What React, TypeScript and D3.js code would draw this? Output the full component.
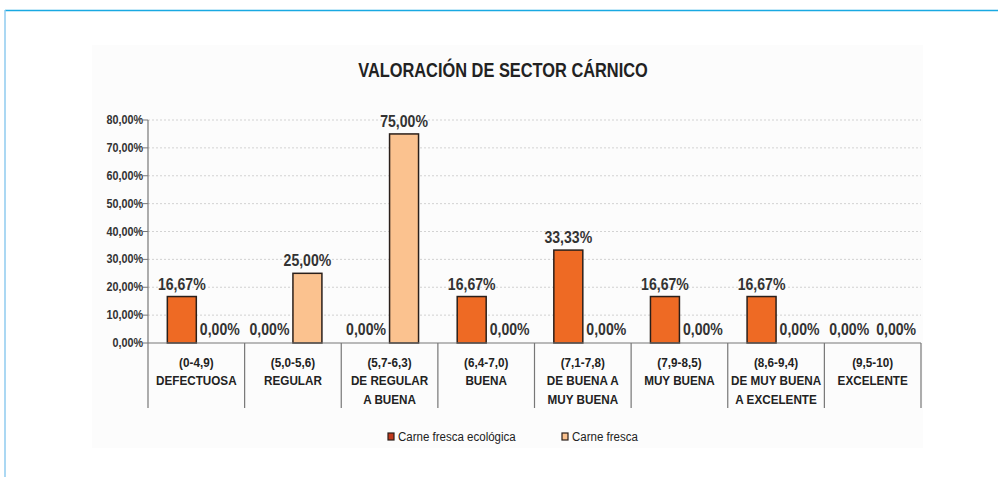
import React from "react";
import * as d3 from "d3";

const title = "VALORACIÓN DE SECTOR CÁRNICO";
const categories: string[][] = [
  ["(0-4,9)", "DEFECTUOSA"],
  ["(5,0-5,6)", "REGULAR"],
  ["(5,7-6,3)", "DE REGULAR", "A BUENA"],
  ["(6,4-7,0)", "BUENA"],
  ["(7,1-7,8)", "DE BUENA A", "MUY BUENA"],
  ["(7,9-8,5)", "MUY BUENA"],
  ["(8,6-9,4)", "DE MUY BUENA", "A EXCELENTE"],
  ["(9,5-10)", "EXCELENTE"],
];
const seriesNames = ["Carne fresca ecológica", "Carne fresca"];
const ecologica = [16.67, 0, 0, 16.67, 33.33, 16.67, 16.67, 0];
const fresca = [0, 25, 75, 0, 0, 0, 0, 0];
const yTicks = [0, 10, 20, 30, 40, 50, 60, 70, 80];

const colors = ["#ee6a24", "#fbc28f"];
const FONT = "'Liberation Sans Narrow', 'Arial Narrow', 'Liberation Sans', Arial, sans-serif";

const fmt = (v: number) => d3.format(".2f")(v).replace(".", ",") + "%";

function NText(props: {
  x: number; y: number; sx: number; anchor?: string; size: number; bold?: boolean; fill?: string; children: React.ReactNode;
}) {
  const { x, y, sx, anchor = "middle", size, bold = true, fill = "#222", children } = props;
  return (
    <text
      transform={`translate(${x},${y}) scale(${sx},1)`}
      textAnchor={anchor as any}
      fontSize={size}
      fontWeight={bold ? "bold" : "normal"}
      fill={fill}
    >
      {children}
    </text>
  );
}

export default function App() {
  const W = 998, H = 477;
  const left = 148, right = 921, top = 120, bottom = 343;
  const x = d3.scaleBand<number>().domain(categories.map((_, i) => i)).range([left, right]).padding(0);
  const x1 = d3.scaleBand<number>().domain([0, 1]).range([0, x.bandwidth()]).paddingInner(0).paddingOuter(0.667);
  const y = d3.scaleLinear().domain([0, 80]).range([bottom, top]);
  const series = [ecologica, fresca];

  return (
    <svg width={W} height={H} style={{ position: "absolute", left: 0, top: 0, background: "#fff" }} fontFamily={FONT}>
      {/* frame */}
      <rect x={92} y={45} width={831} height={403} fill="#fcfcfc" />
      <line x1={5} x2={998} y1={10.5} y2={10.5} stroke="#19a9e2" strokeWidth={1.5} />
      <line x1={5} x2={5} y1={10} y2={477} stroke="#8fcbef" strokeWidth={1.5} />

      <NText x={503} y={77} sx={0.78} size={21} fill="#222">{title}</NText>

      {/* gridlines */}
      {yTicks.map((t) => (
        <g key={t}>
          {t > 0 && (
            <line x1={left} x2={right} y1={y(t)} y2={y(t)} stroke="#c8c8c8" strokeDasharray="2,2" strokeWidth={0.8} />
          )}
          <line x1={left - 5} x2={left} y1={y(t)} y2={y(t)} stroke="#777" strokeWidth={1} />
          <NText x={left - 5} y={y(t) + 4} sx={0.9} anchor="end" size={12} fill="#333">{fmt(t)}</NText>
        </g>
      ))}

      {/* bars */}
      {categories.map((_, i) => (
        <g key={i} transform={`translate(${x(i)},0)`}>
          {series.map((s, k) => {
            const v = s[i];
            const bx = x1(k)!;
            const bw = x1.bandwidth();
            const cx = bx + bw / 2 + (v === 0 ? (k === 0 ? -9 : 9) : 0);
            return (
              <g key={k}>
                {v > 0 && (
                  <rect x={bx} y={y(v)} width={bw} height={bottom - y(v)} fill={colors[k]} stroke="#2a1f1a" strokeWidth={1.5} />
                )}
                <NText x={cx} y={v > 0 ? y(v) - 7 : bottom - 8} sx={0.88} size={16} fill="#333">{fmt(v)}</NText>
              </g>
            );
          })}
        </g>
      ))}

      {/* axes */}
      <line x1={left} x2={left} y1={top} y2={bottom} stroke="#777" strokeWidth={1.2} />
      <line x1={left} x2={right} y1={bottom} y2={bottom} stroke="#777" strokeWidth={1.2} />
      {categories.map((_, i) => (
        <line key={i} x1={x(i)} x2={x(i)} y1={bottom} y2={408} stroke="#777" strokeWidth={1.2} />
      ))}
      <line x1={right} x2={right} y1={bottom} y2={408} stroke="#777" strokeWidth={1.2} />
      {categories.map((lines, i) => (
        <g key={i} transform={`translate(${x(i)! + x.bandwidth() / 2},0) scale(0.9,1)`}>
          <text textAnchor="middle" fontSize={13} fontWeight="bold" fill="#222">
            {lines.map((l, j) => (
              <tspan key={j} x={0} y={367 + j * 18.5}>{l}</tspan>
            ))}
          </text>
        </g>
      ))}

      {/* legend */}
      {seriesNames.map((n, k) => {
        const lx = k === 0 ? 388 : 562;
        return (
          <g key={k}>
            <rect x={lx} y={433} width={6} height={7} fill={k === 0 ? "#c0391c" : colors[1]} stroke="#2a1f1a" strokeWidth={1.2} />
            <NText x={lx + 10} y={441} sx={0.96} anchor="start" size={12} bold={false} fill="#222">{n}</NText>
          </g>
        );
      })}
    </svg>
  );
}
